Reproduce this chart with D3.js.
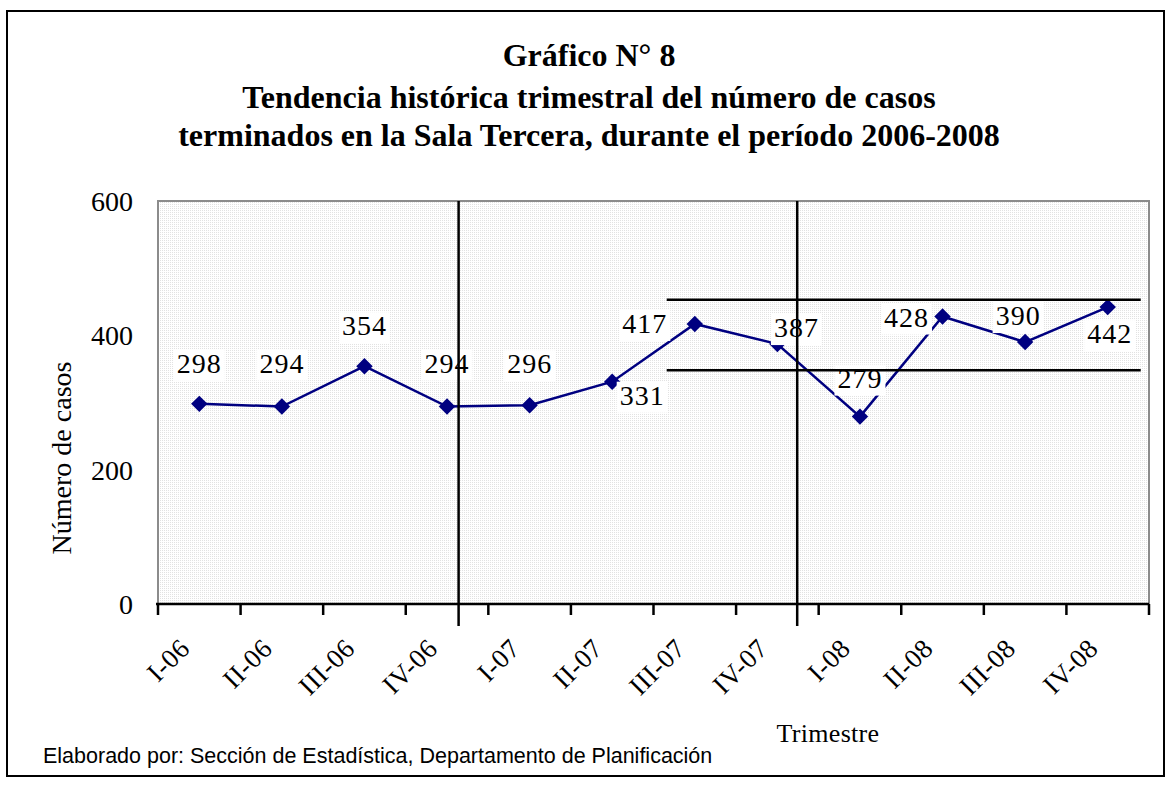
<!DOCTYPE html>
<html>
<head>
<meta charset="utf-8">
<script src="https://cdn.jsdelivr.net/npm/d3@7"></script>
<style>
  body { margin: 0; background: #fff; }
  text { font-family: "Liberation Serif", "Times New Roman", serif; }
</style>
</head>
<body>
<div id="chart"></div>
<script>
// Datos del gráfico
const quarters = ["I-06", "II-06", "III-06", "IV-06", "I-07", "II-07", "III-07", "IV-07", "I-08", "II-08", "III-08", "IV-08"];
const cases = [298, 294, 354, 294, 296, 331, 417, 387, 279, 428, 390, 442];
const yTicks = [0, 200, 400, 600];
// líneas dibujadas encima (posición en unidades de categoría)
const dividers = [3.64, 7.74];
const guideLevels = [453, 348];
const guideSpan = [6.16, 11.9];

const titleLines = [
    "Gráfico N° 8",
    "Tendencia histórica trimestral del número de casos",
    "terminados en la Sala Tercera, durante el período 2006-2008"
];

// desplazamiento de cada etiqueta respecto a su punto
const labelOffsets = [[0, -31], [0, -34], [0, -31], [0, -34], [0, -32], [30, 23],
    [-50, 9], [19, -7], [0, -29], [-36, 10], [-7, -17], [2, 36]];

const W = 1171, H = 787;
const plot = { left: 158, right: 1149, top: 201, bottom: 604 };

const svg = d3.select("#chart").append("svg")
    .attr("width", W)
    .attr("height", H);

// marco exterior
svg.append("rect")
    .attr("x", 7).attr("y", 11)
    .attr("width", 1157).attr("height", 765)
    .attr("fill", "#fff")
    .attr("stroke", "#000")
    .attr("stroke-width", 2);

// patrón punteado del área de trazado
const pat = svg.append("defs").append("pattern")
    .attr("id", "dots")
    .attr("width", 4).attr("height", 2)
    .attr("patternUnits", "userSpaceOnUse");
pat.append("rect").attr("width", 4).attr("height", 2).attr("fill", "#fff");
pat.append("rect").attr("x", 0).attr("y", 0).attr("width", 1).attr("height", 1).attr("fill", "#e2e2e2");
pat.append("rect").attr("x", 2).attr("y", 0).attr("width", 1).attr("height", 1).attr("fill", "#e2e2e2");

const x = d3.scaleBand().domain(quarters).range([plot.left, plot.right]);
const xPos = d3.scaleLinear().domain([0, quarters.length]).range([plot.left, plot.right]);
const y = d3.scaleLinear().domain([0, 600]).range([plot.bottom, plot.top]);
const cx = d => x(d) + x.bandwidth() / 2;

svg.append("rect")
    .attr("x", plot.left).attr("y", plot.top)
    .attr("width", plot.right - plot.left)
    .attr("height", plot.bottom - plot.top)
    .attr("fill", "url(#dots)")
    .attr("stroke", "#8c8c8c")
    .attr("stroke-width", 2);

// título
svg.append("g").selectAll("text")
    .data(titleLines)
    .enter().append("text")
    .attr("x", 589)
    .attr("y", (d, i) => [66, 108, 146][i])
    .attr("text-anchor", "middle")
    .style("font-size", "32px")
    .style("font-weight", "bold")
    .text(d => d);

// eje y
svg.append("g").selectAll("text")
    .data(yTicks)
    .enter().append("text")
    .attr("x", 133)
    .attr("y", d => y(d) + 10)
    .attr("text-anchor", "end")
    .style("font-size", "28px")
    .text(d => d);

svg.append("text")
    .attr("transform", "translate(71,458) rotate(-90)")
    .attr("text-anchor", "middle")
    .style("font-size", "28px")
    .text("Número de casos");

// serie
const pts = quarters.map((q, i) => ({ q: q, v: cases[i], i: i }));

svg.append("path")
    .datum(pts)
    .attr("fill", "none")
    .attr("stroke", "#000080")
    .attr("stroke-width", 2.5)
    .attr("d", d3.line().x(d => cx(d.q)).y(d => y(d.v)));

svg.append("g").selectAll("path")
    .data(pts)
    .enter().append("path")
    .attr("d", d3.symbol().type(d3.symbolSquare).size(135))
    .attr("transform", d => "translate(" + cx(d.q) + "," + y(d.v) + ") rotate(45)")
    .attr("fill", "#000080");

// etiquetas con fondo blanco
const lab = svg.append("g").selectAll("g")
    .data(pts)
    .enter().append("g")
    .attr("transform", d => "translate(" + (cx(d.q) + labelOffsets[d.i][0]) + "," + (y(d.v) + labelOffsets[d.i][1]) + ")");

lab.append("text")
    .attr("text-anchor", "middle")
    .style("font-size", "28px")
    .style("letter-spacing", "1px")
    .text(d => d.v);

lab.each(function() {
    const g = d3.select(this);
    const b = g.select("text").node().getBBox();
    g.insert("rect", "text")
        .attr("x", b.x - 3).attr("y", b.y + 2)
        .attr("width", b.width + 6).attr("height", b.height)
        .attr("fill", "#fff");
});

// líneas añadidas
svg.append("g").selectAll("line")
    .data(dividers)
    .enter().append("line")
    .attr("x1", d => xPos(d)).attr("x2", d => xPos(d))
    .attr("y1", plot.top).attr("y2", plot.bottom + 22)
    .attr("stroke", "#000")
    .attr("stroke-width", 2.5);

svg.append("g").selectAll("line")
    .data(guideLevels)
    .enter().append("line")
    .attr("x1", xPos(guideSpan[0])).attr("x2", xPos(guideSpan[1]))
    .attr("y1", d => y(d)).attr("y2", d => y(d))
    .attr("stroke", "#000")
    .attr("stroke-width", 2.5);

// eje x
const xAxis = svg.append("g")
    .attr("transform", "translate(0," + plot.bottom + ")");
xAxis.append("line")
    .attr("x1", plot.left - 2).attr("x2", plot.right)
    .attr("stroke", "#000").attr("stroke-width", 2.5);
xAxis.selectAll(".tick")
    .data(d3.range(quarters.length + 1))
    .enter().append("line")
    .attr("x1", d => xPos(d)).attr("x2", d => xPos(d))
    .attr("y1", 0).attr("y2", 11)
    .attr("stroke", "#000").attr("stroke-width", 2.5);

svg.append("g").selectAll("text")
    .data(quarters)
    .enter().append("text")
    .attr("transform", d => "translate(" + (cx(d) - 8) + ",650) rotate(-45)")
    .attr("text-anchor", "end")
    .style("font-size", "27px")
    .style("letter-spacing", "0.5px")
    .text(d => d);

svg.append("text")
    .attr("x", 828).attr("y", 742)
    .attr("text-anchor", "middle")
    .style("font-size", "26px")
    .style("letter-spacing", "0.3px")
    .text("Trimestre");

svg.append("text")
    .attr("x", 43).attr("y", 763)
    .style("font-family", "'Liberation Sans', Arial, sans-serif")
    .style("font-size", "21.5px")
    .text("Elaborado por: Sección de Estadística, Departamento de Planificación");
</script>
</body>
</html>
